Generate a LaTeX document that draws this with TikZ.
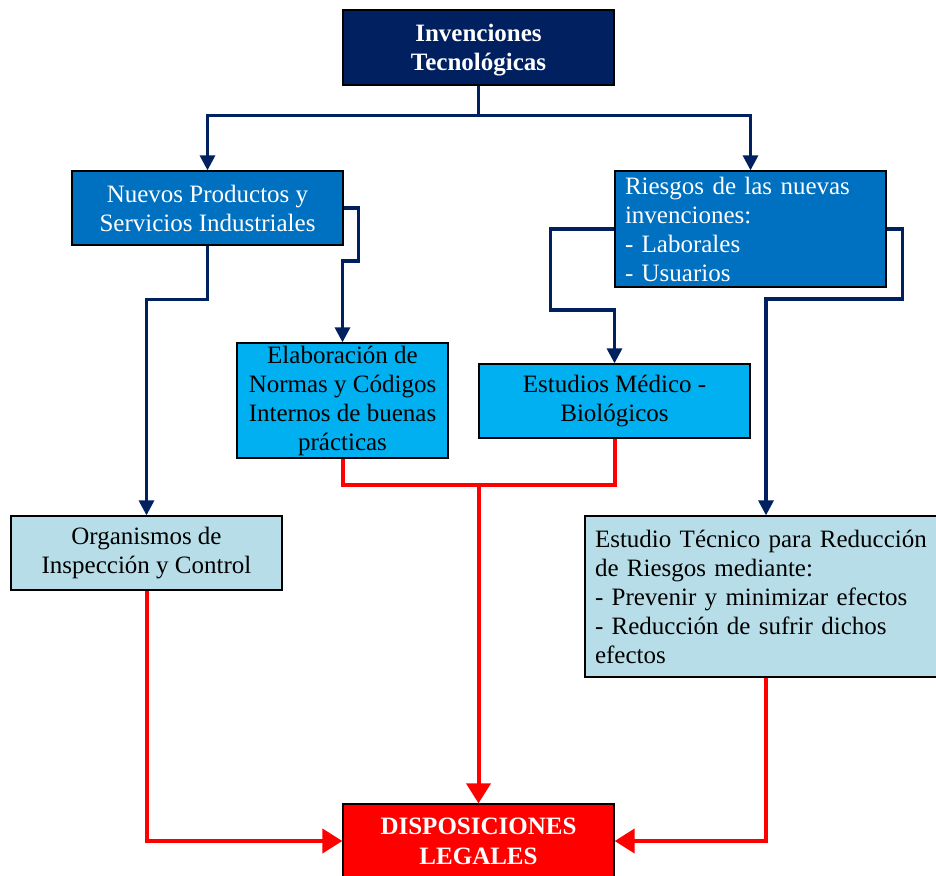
\documentclass[tikz,border=0pt]{standalone}
\usepackage{fontspec}
\setmainfont{Liberation Serif}
\usetikzlibrary{arrows.meta}
\definecolor{navybox}{HTML}{002060}
\definecolor{midblue}{HTML}{0070C0}
\definecolor{skyblue}{HTML}{00B0F0}
\definecolor{paleblue}{HTML}{B7DEE8}
\definecolor{linknavy}{HTML}{002060}
\definecolor{linkred}{HTML}{FF0000}
\tikzset{
  box/.style={draw=black, line width=1.3pt, inner sep=0pt, align=center,
    font=\fontsize{25}{29}\selectfont},
  leftbox/.style={box, align=left, inner xsep=10pt},
  navylink/.style={draw=linknavy, line width=3.2pt},
  navyarrow/.style={navylink, -{Triangle[width=15pt,length=15pt]}},
  redlink/.style={draw=linkred, line width=4pt},
  redarrow/.style={redlink, -{Triangle[width=24pt,length=20pt]}}
}
\begin{document}
\begin{tikzpicture}[x=1pt,y=-1pt]
\useasboundingbox (0,0) rectangle (936,875);

% boxes
\node[box, fill=navybox, minimum width=271pt, minimum height=75pt]
  (top) at (478.5,47.5) {};
\node[text=white, font=\fontsize{25}{29}\selectfont\bfseries, align=center,
  inner sep=0pt] (toptext) at (478.5,50) {Invenciones\\Tecnológicas};
\node[box, fill=midblue, text=white, minimum width=271pt, minimum height=74pt]
  (nuevos) at (207.5,208) {Nuevos Productos y\\Servicios Industriales};
\node[leftbox, fill=midblue, text=white, text width=251pt, minimum height=116pt]
  (riesgos) at (750.5,229)
  {Riesgos de las nuevas\\invenciones:\\- Laborales\\- Usuarios};
\node[box, fill=skyblue, minimum width=211pt, minimum height=115pt]
  (elab) at (342.5,400.5)
  {Elaboración de\\Normas y Códigos\\Internos de buenas\\prácticas};
\node[box, fill=skyblue, minimum width=271pt, minimum height=74pt]
  (medico) at (614.5,401) {Estudios Médico -\\Biológicos};
\node[box, fill=paleblue, minimum width=271pt, minimum height=74pt]
  (organ) at (146.5,553) {Organismos de\\Inspección y Control};
\node[leftbox, fill=paleblue, text width=342pt, minimum height=161pt]
  (tecnico) at (766,596.5)
  {Estudio Técnico para Reducción\\de Riesgos mediante:\\- Prevenir y minimizar efectos\\- Reducción de sufrir dichos\\efectos};
\node[box, fill=linkred, text=white, font=\fontsize{25}{30}\selectfont\bfseries,
  minimum width=271pt, minimum height=74pt] (legal) at (478.5,841)
  {DISPOSICIONES\\LEGALES};

% navy connectors
\draw[navyarrow] (top.south) -- ++(0,30) -| (nuevos.north);
\draw[navyarrow] (top.south) -- ++(0,30) -| (riesgos.north);
\draw[navyarrow] (nuevos.south) -- ++(0,54) -| (organ.north);
\draw[navyarrow] (nuevos.east) -| ++(15,53) -| (elab.north);
\draw[navyarrow] (riesgos.west) -| ++(-64,81) -| (medico.north);
\draw[navyarrow] (riesgos.east) -| ++(16,70) -| (tecnico.north);

% red connectors
\path (elab.south) ++(0,26) coordinate (rj);
\draw[redlink] (elab.south) -- (rj) -| (medico.south);
\draw[redarrow] (legal.north |- rj) -- (legal.north);
\draw[redarrow] (organ.south) |- (legal.west);
\draw[redarrow] (tecnico.south) |- (legal.east);
\end{tikzpicture}
\end{document}
